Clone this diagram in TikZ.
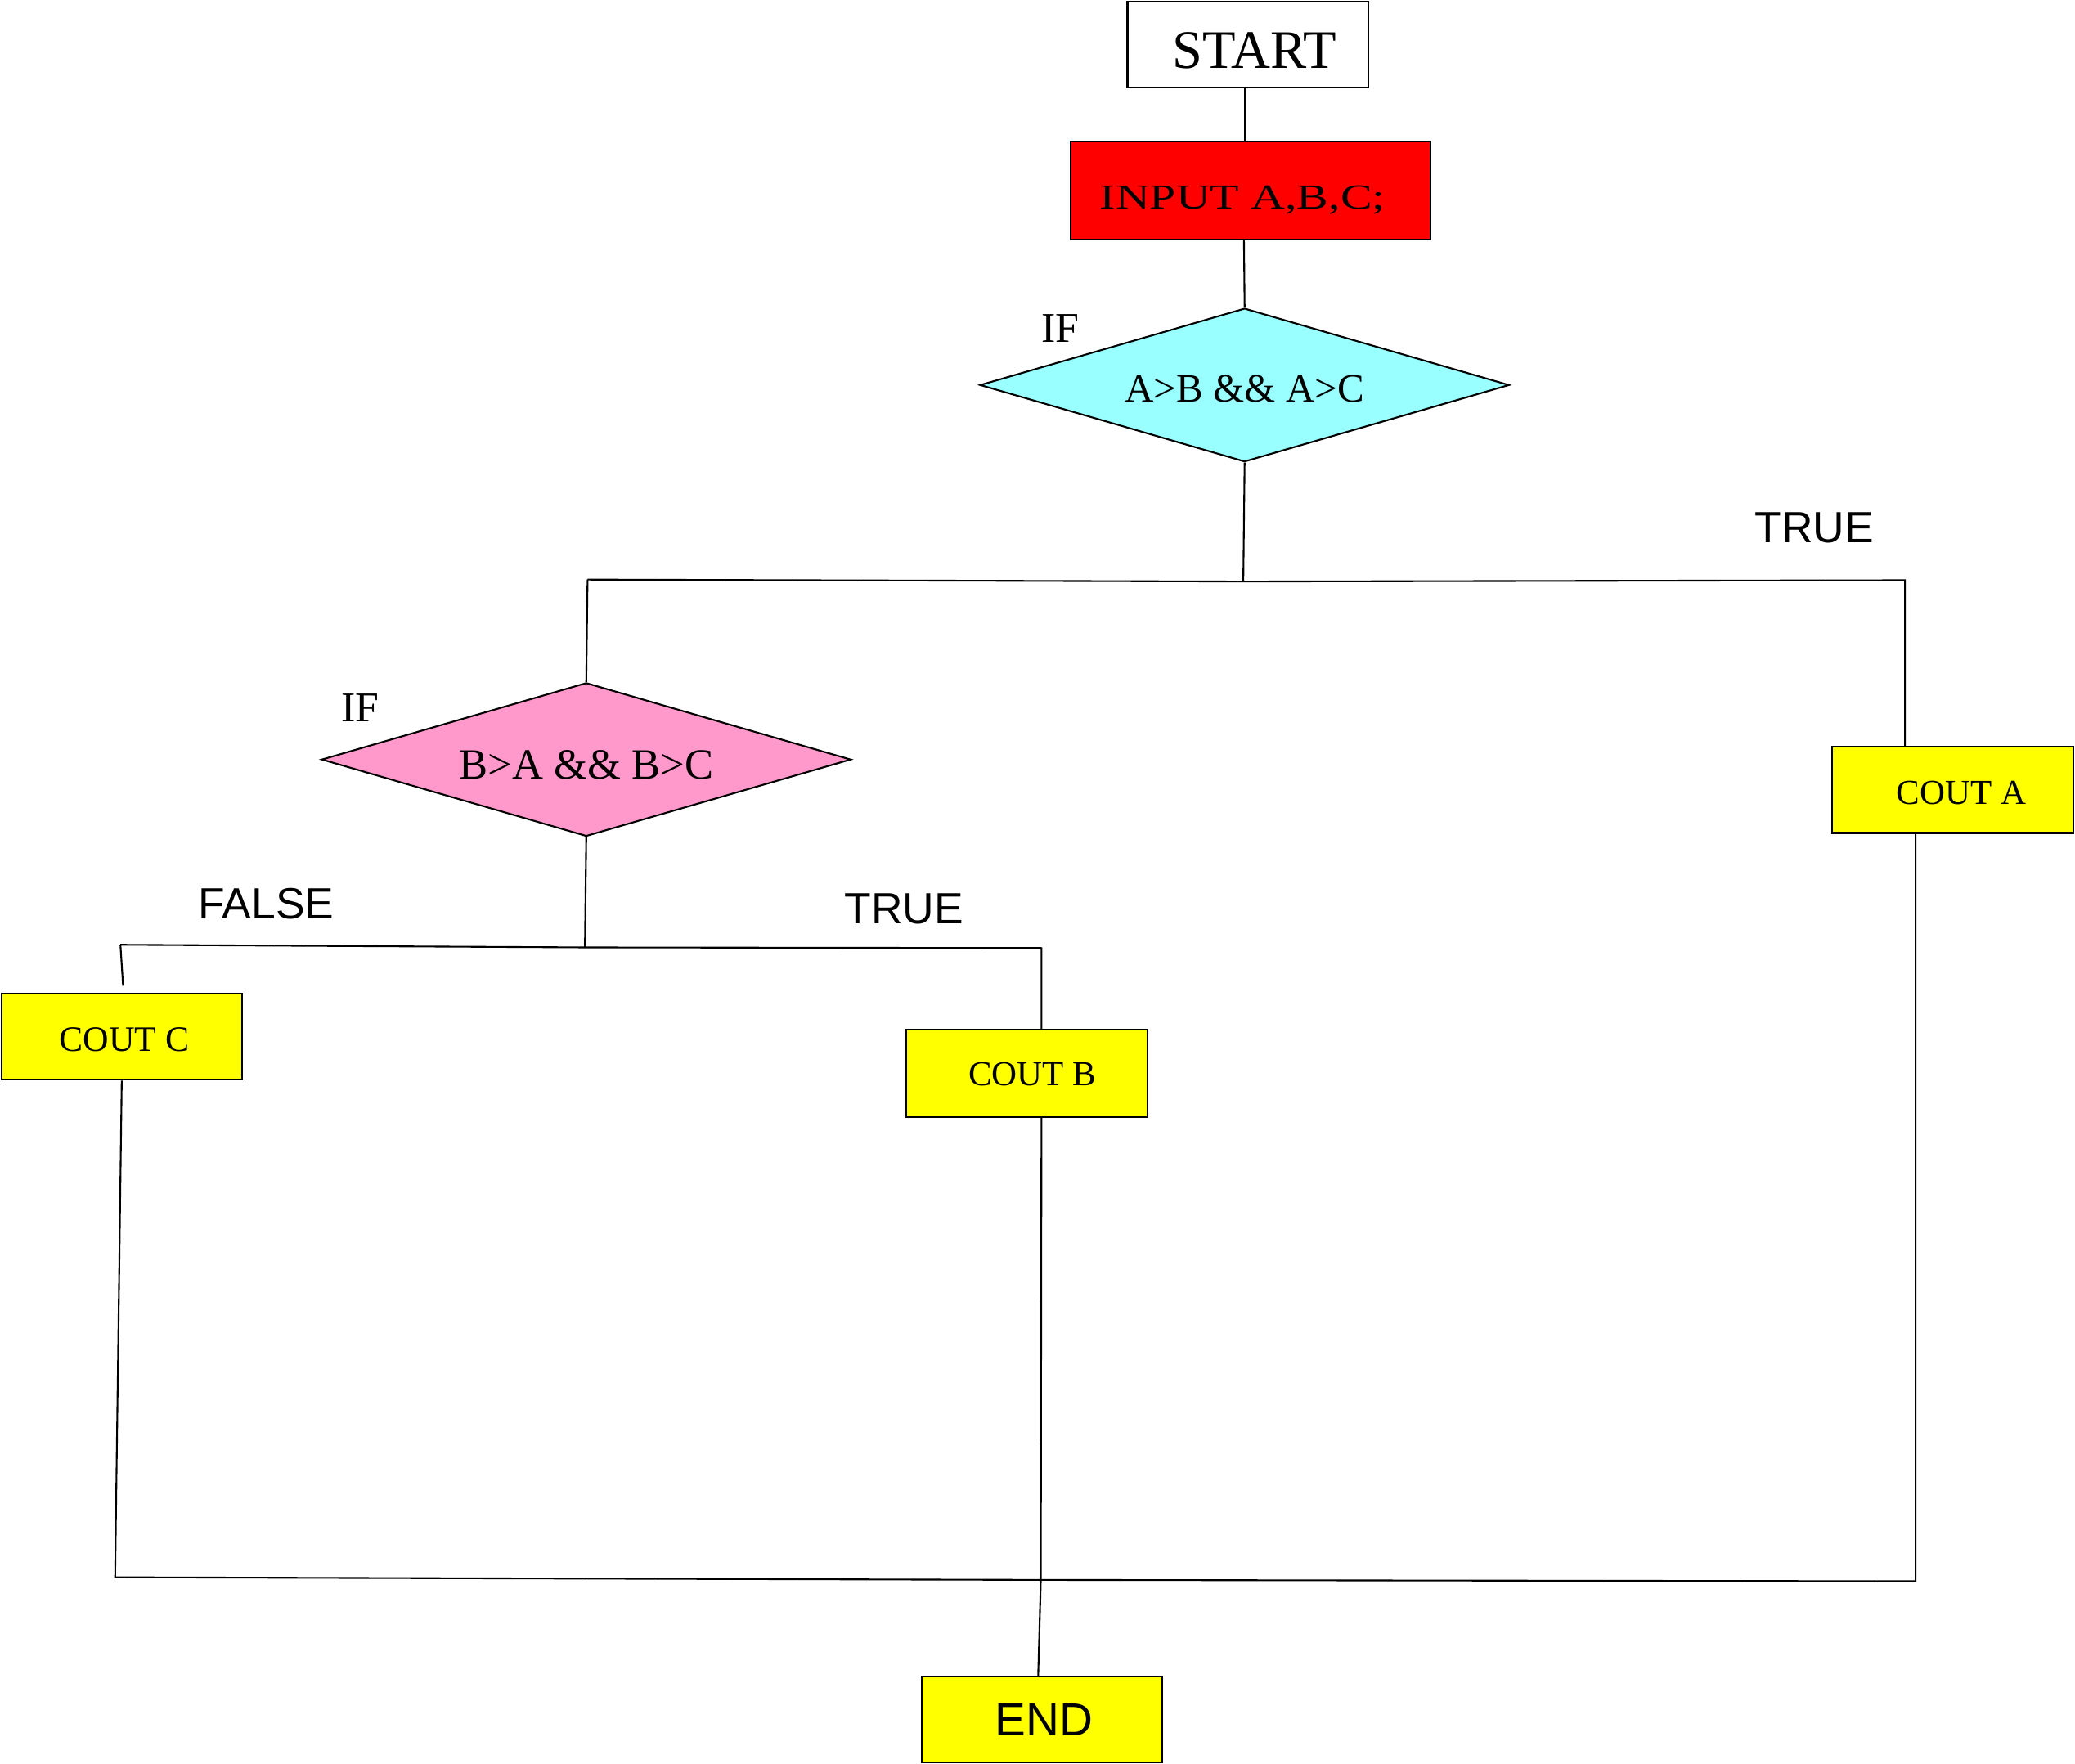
\documentclass[tikz,border=0pt]{standalone}
\usepackage{fontspec}
\setmainfont{Liberation Serif}
\newfontfamily\sansf{Liberation Sans}
\newfontfamily\wideserif[FakeStretch=1.35]{Liberation Serif}
\usetikzlibrary{shapes.geometric}
\definecolor{cred}{HTML}{FF0000}
\definecolor{ccyan}{HTML}{99FFFF}
\definecolor{cpink}{HTML}{FF99CC}
\definecolor{cyel}{HTML}{FFFF00}
\newcommand{\dn}[2]{\raisebox{-#1}[\height][\depth]{#2}}
\tikzset{
  box/.style={draw=black, line width=1.3pt, rectangle, inner sep=0pt, minimum width=182pt, minimum height=65pt, text=black},
  dia/.style={draw=black, line width=1.3pt, diamond, inner sep=0pt, aspect=3.45, minimum width=400pt, minimum height=116pt},
  lbl/.style={inner sep=0pt, text=black},
  conn/.style={line width=1.3pt, draw=black}
}
\begin{document}
\begin{tikzpicture}[x=1pt,y=-1pt]
\useasboundingbox (0,0) rectangle (1568,1333);
% nodes
\node[box, fill=white] (start) at (943,33.5) {\hspace*{10pt}\dn{5pt}{\fontsize{41}{41}\selectfont START}};
\node[box, fill=cred, minimum width=272pt, minimum height=74pt] (input) at (945,144) {\hspace*{-12pt}\dn{7pt}{\wideserif\fontsize{26.5}{26.5}\selectfont INPUT A,B,C;}};
\node[dia, fill=ccyan] (d1) at (940.5,291) {\dn{3pt}{\fontsize{30.3}{30.3}\selectfont A>B \&\& A>C}};
\node[lbl] (if1) at (801,248) {\fontsize{32}{32}\selectfont IF};
\node[dia, fill=cpink] (d2) at (443,574) {\dn{4pt}{\fontsize{32.5}{32.5}\selectfont B>A \&\& B>C}};
\node[lbl] (if2) at (272,535) {\fontsize{32}{32}\selectfont IF};
\node[box, fill=cyel] (couta) at (1475.5,597) {\hspace*{13pt}\dn{2pt}{\fontsize{26.5}{26.5}\selectfont COUT A}};
\node[box, fill=cyel] (coutc) at (92,783.5) {\hspace*{4pt}\dn{2pt}{\fontsize{27}{27}\selectfont COUT C}};
\node[box, fill=cyel, minimum height=66pt] (coutb) at (776,811) {\hspace*{8pt}\dn{1pt}{\fontsize{26.5}{26.5}\selectfont COUT B}};
\node[box, fill=cyel] (end) at (787.5,1299.5) {\hspace*{3pt}\sansf\fontsize{35}{35}\selectfont END};
\node[lbl] (true1) at (1371,399) {\sansf\fontsize{33}{33}\selectfont TRUE};
\node[lbl] (false2) at (201,683) {\sansf\fontsize{33}{33}\selectfont FALSE};
\node[lbl] (true2) at (683,687) {\sansf\fontsize{33}{33}\selectfont TRUE};
% junctions
\coordinate (j1) at (939.5,439.5);
\coordinate (j1l) at (444,438);
\coordinate (j1r) at (1439.5,438.5);
\coordinate (j2) at (442,716);
\coordinate (j2l) at (91,714);
\coordinate (j2r) at (787,716.5);
\coordinate (cfree) at (93,745);
\coordinate (bl) at (87,1192);
\coordinate (bm) at (786.5,1194);
\coordinate (br) at (1447.5,1195);
% connectors
\draw[conn] ([xshift=-2pt]start.south) -- ([xshift=-4pt]input.north);
\draw[conn] ([xshift=-5pt]input.south) -- (d1.north);
\draw[conn] (d1.south) -- (j1);
\draw[conn] (j1l) -- (j1) -- (j1r) -- ([xshift=-36pt]couta.north);
\draw[conn] (j1l) -- (d2.north);
\draw[conn] (d2.south) -- (j2);
\draw[conn] (j2l) -- (j2) -- (j2r) -- ([xshift=11pt]coutb.north);
\draw[conn] (j2l) -- (cfree);
\draw[conn] ([xshift=-28pt]couta.south) -- (br) -- (bm) -- (bl) -- (coutc.south);
\draw[conn] ([xshift=11pt]coutb.south) -- (bm) -- ([xshift=-3pt]end.north);
\end{tikzpicture}
\end{document}
